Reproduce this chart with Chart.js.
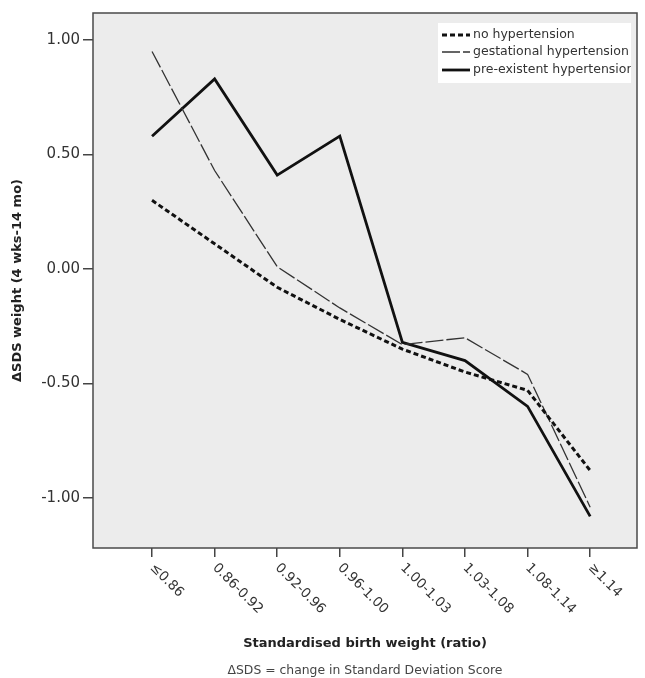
<!DOCTYPE html>
<html><head><meta charset="utf-8">
<script src="https://cdn.jsdelivr.net/npm/chart.js@4.4.0/dist/chart.umd.min.js"></script>
<style>html,body{margin:0;padding:0;background:#fff;}#wrap{width:645px;height:678px;}</style>
</head><body><div id="wrap"><canvas id="c" width="645" height="678"></canvas></div>
<script>
const categories = ['≤0.86','0.86-0.92','0.92-0.96','0.96-1.00','1.00-1.03','1.03-1.08','1.08-1.14','≥1.14'];
const noHypertension = [0.30, 0.11, -0.08, -0.22, -0.35, -0.45, -0.53, -0.88];
const gestationalHypertension = [0.95, 0.43, 0.01, -0.17, -0.33, -0.30, -0.46, -1.04];
const preexistentHypertension = [0.58, 0.83, 0.41, 0.58, -0.32, -0.40, -0.60, -1.08];
const yTickValues = [-1.0, -0.5, 0.0, 0.5, 1.0];
const seriesLabels = ['no hypertension', 'gestational hypertension', 'pre-existent hypertension'];
const xTitle = 'Standardised birth weight (ratio)';
const yTitle = 'ΔSDS weight (4 wks-14 mo)';
const footnote = 'ΔSDS = change in Standard Deviation Score';

const toPts = arr => arr.map((v, i) => ({x: i, y: v}));
const FONT = "'DejaVu Sans', sans-serif";

const deco = {
  id: 'deco',
  beforeDraw(chart) {
    const {ctx, chartArea: a} = chart;
    ctx.save();
    ctx.fillStyle = '#ececec';
    ctx.fillRect(a.left, a.top, a.right - a.left, a.bottom - a.top);
    ctx.restore();
    const items = chart.scales.x.getLabelItems(chart.chartArea);
    items.forEach(it => { it.options.textAlign = 'left'; });
  },
  afterDraw(chart) {
    const {ctx, chartArea: a} = chart;
    ctx.save();
    ctx.strokeStyle = '#4a4a4a';
    ctx.lineWidth = 1.5;
    ctx.strokeRect(a.left, a.top, a.right - a.left, a.bottom - a.top);
    // legend
    const lx = 438, ly = 23, lw = 193, lh = 60;
    ctx.fillStyle = '#ffffff';
    ctx.fillRect(lx, ly, lw, lh);
    ctx.beginPath(); ctx.rect(lx, ly, lw, lh); ctx.clip();
    const rows = [35, 52, 70];
    chart.data.datasets.forEach((ds, i) => {
      ctx.beginPath();
      ctx.setLineDash(ds.borderDash || []);
      ctx.lineWidth = ds.borderWidth;
      ctx.strokeStyle = ds.borderColor;
      ctx.moveTo(442, rows[i]); ctx.lineTo(470, rows[i]);
      ctx.stroke();
      ctx.setLineDash([]);
      ctx.fillStyle = '#333';
      ctx.font = '12.5px ' + FONT;
      ctx.textBaseline = 'middle';
      ctx.textAlign = 'left';
      ctx.fillText(ds.label, 473, rows[i]);
    });
    ctx.restore();
    ctx.save();
    ctx.fillStyle = '#444';
    ctx.font = '12.4px ' + FONT;
    ctx.textAlign = 'center';
    ctx.textBaseline = 'middle';
    ctx.fillText(footnote, 365, 671);
    ctx.restore();
  }
};

new Chart(document.getElementById('c'), {
  type: 'line',
  data: {
    datasets: [
      {label: seriesLabels[0], data: toPts(noHypertension), borderColor: '#111', borderWidth: 3, borderDash: [5, 3], pointRadius: 0, tension: 0, fill: false},
      {label: seriesLabels[1], data: toPts(gestationalHypertension), borderColor: '#333', borderWidth: 1.3, borderDash: [18, 3], pointRadius: 0, tension: 0, fill: false},
      {label: seriesLabels[2], data: toPts(preexistentHypertension), borderColor: '#111', borderWidth: 2.8, pointRadius: 0, tension: 0, fill: false}
    ]
  },
  options: {
    responsive: false,
    animation: false,
    devicePixelRatio: 1,
    layout: {padding: {left: 0, top: 13, right: 8, bottom: 0}},
    plugins: {legend: {display: false}, tooltip: {enabled: false}},
    scales: {
      x: {
        type: 'linear',
        min: -0.943, max: 7.748,
        afterBuildTicks: s => { s.ticks = categories.map((c, i) => ({value: i})); },
        afterFit: s => { s.height = 130; },
        border: {display: false},
        grid: {drawOnChartArea: false, drawTicks: true, tickLength: 9, color: '#444', lineWidth: 1.5},
        ticks: {
          callback: v => categories[v],
          minRotation: -45, maxRotation: -45,
          autoSkip: false,
          padding: 3,
          color: '#333',
          font: {family: FONT, size: 13.5}
        },
        title: {display: true, text: xTitle, color: '#222', font: {family: FONT, size: 13, weight: 'bold'}, padding: {top: 0, bottom: 27}}
      },
      y: {
        min: -1.2183, max: 1.1179,
        afterBuildTicks: s => { s.ticks = yTickValues.map(v => ({value: v})); },
        afterFit: s => { s.width = 93; },
        border: {display: false},
        grid: {drawOnChartArea: false, drawTicks: true, tickLength: 10, color: '#444', lineWidth: 1.5},
        ticks: {
          callback: v => Number(v).toFixed(2),
          padding: 3,
          color: '#333',
          font: {family: FONT, size: 15}
        },
        title: {display: true, text: yTitle, color: '#222', font: {family: FONT, size: 13, weight: 'bold'}, padding: {top: 10, bottom: 0}}
      }
    }
  },
  plugins: [deco]
});
</script></body></html>
